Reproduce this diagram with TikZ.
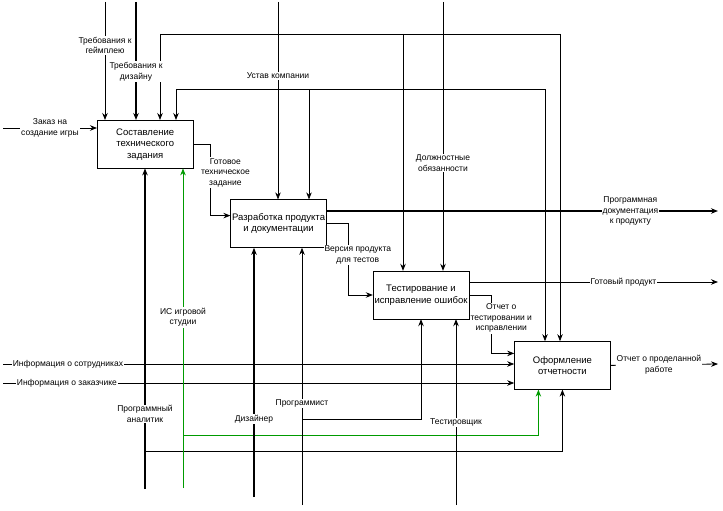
\documentclass[tikz,border=0pt]{standalone}
\usepackage{fontspec}
\setmainfont{Liberation Sans}
\usetikzlibrary{arrows.meta,positioning}
\definecolor{ToolGreen}{RGB}{0,155,0}

\begin{document}
\begin{tikzpicture}[
        x=1pt, y=-1pt,
        font=\fontsize{8.5}{10.5}\selectfont,
        func/.style={draw, fill=white, align=center, minimum width=96pt,
                     minimum height=48pt, inner sep=1pt,
                     font=\fontsize{9.5}{11.5}\selectfont},
        arr/.style={-{Stealth[length=7pt,width=5.5pt]}, line width=0.8pt},
        ln/.style={line width=0.8pt},
        bold/.style={line width=1.4pt},
        lbl/.style={fill=white, align=center, inner sep=1pt},
        tool/.style={draw=ToolGreen, -{Stealth[length=7pt,width=5.5pt]},
                     line width=0.9pt}
      ]
        \useasboundingbox (0,0) rectangle (723,511);
        % functional blocks A1..A4 (staircase)
        \node[func, anchor=north west] (a1) at (97,120)
              {Составление\\технического\\задания};
        \node[func, below right=31pt and 37pt of a1] (a2)
              {Разработка продукта\\и документации};
        \node[func, below right=23pt and 46pt of a2] (a3)
              {Тестирование и\\исправление ошибок};
        \node[func, below right=22pt and 45pt of a3] (a4)
              {Оформление\\отчетности};
        % free ends on the border
        \coordinate (order)    at (3,128);
        \coordinate (staff)    at (3,364);
        \coordinate (client)   at (3,383);
        \coordinate (gameplay) at (105,2);
        \coordinate (design)   at (136,2);
        \coordinate (charter)  at (278,2);
        \coordinate (duties)   at (443,2);
        \coordinate (docs)     at (718,211);
        \coordinate (product)  at (718,282);
        \coordinate (report)   at (718,364);
        \coordinate (analyst)  at (145,489);
        \coordinate (isys)     at (183,488);
        \coordinate (designer) at (254,497);
        \coordinate (coder)    at (302,505);
        \coordinate (tester)   at (456,505);
        % branch points of the controls
        \coordinate (dutyL)  at (160,34);
        \coordinate (dutyM)  at (403,34);
        \coordinate (dutyR)  at (560,34);
        \coordinate (chartL) at (176,89);
        \coordinate (chartM) at (309,89);
        \coordinate (chartR) at (545,89);
        % branch points of the mechanisms
        \coordinate (analystB) at (145,451);
        \coordinate (isysB)    at (183,435);
        \coordinate (coderB)   at (302,419);
        % control branches
        \draw[ln] (dutyL) -- (dutyR);
        \draw[ln] (chartL) -- (chartR);
        \foreach \c/\n in {dutyL/a1,dutyM/a3,dutyR/a4,chartL/a1,chartM/a2,chartR/a4}
          \draw[arr] (\c) -- (\c |- \n.north);
        % mechanism branches
        \draw[arr] (analystB) -| (a4.south);
        \draw[tool] (isysB) -| ([xshift=-24pt]a4.south);
        \draw[arr] (coderB) -| (a3.south);
        % controls
        \draw[arr] (gameplay) -- node[lbl, pos=0.37]{Требования к\\геймплею}
              (gameplay |- a1.north);
        \draw[arr, bold] (design) -- node[lbl, pos=0.59]{Требования к\\дизайну}
              (design |- a1.north);
        \draw[arr] (charter) -- node[lbl, pos=0.375]{Устав компании}
              (charter |- a2.north);
        \draw[arr] (duties) -- node[lbl, pos=0.6]{Должностные\\обязанности}
              (duties |- a3.north);
        % inputs
        \draw[arr] (order) -- node[lbl]{Заказ на\\создание игры} (order -| a1.west);
        \draw[arr] (staff) -- node[lbl, pos=0.127]{Информация о сотрудниках}
              (staff -| a4.west);
        \draw[arr] (client) -- node[lbl, pos=0.125]{Информация о заказчике}
              (client -| a4.west);
        % outputs and links between blocks
        \draw[arr] (a1.east) -- ++(17,0) |- node[lbl, pos=0.2, xshift=15pt]
              {Готовое\\техническое\\задание} ([yshift=8pt]a2.west);
        \draw[arr, bold] (a2.east |- docs) -- node[lbl, pos=0.776]
              {Программная\\документация\\к продукту} (docs);
        \draw[arr] (a2.east) -- ++(22,0) |- node[lbl, pos=0.22, xshift=9pt]
              {Версия продукта\\для тестов} (a3.west);
        \draw[arr] (a3.east |- product) -- node[lbl, pos=0.62]{Готовый продукт}
              (product);
        \draw[arr] (a3.east) -- ++(22,0) |- node[lbl, pos=0.2, xshift=10pt]
              {Отчет о\\тестировании и\\исправлении} ([yshift=12pt]a4.west);
        \draw[arr] (a4.east) -- node[lbl, pos=0.45]{Отчет о проделанной\\работе}
              (report);
        % mechanisms
        \draw[arr, bold] (analyst) -- node[lbl, pos=0.234]{Программный\\аналитик}
              (analyst |- a1.south);
        \draw[tool] (isys) -- node[lbl, pos=0.534]{ИС игровой\\студии}
              (isys |- a1.south);
        \draw[arr, bold] (designer) -- node[lbl, pos=0.312]{Дизайнер}
              (designer |- a2.south);
        \draw[arr] (coder) -- node[lbl, pos=0.395]{Программист}
              (coder |- a2.south);
        \draw[arr] (tester) -- node[lbl, pos=0.444]{Тестировщик}
              (tester |- a3.south);
      \end{tikzpicture}
\end{document}
